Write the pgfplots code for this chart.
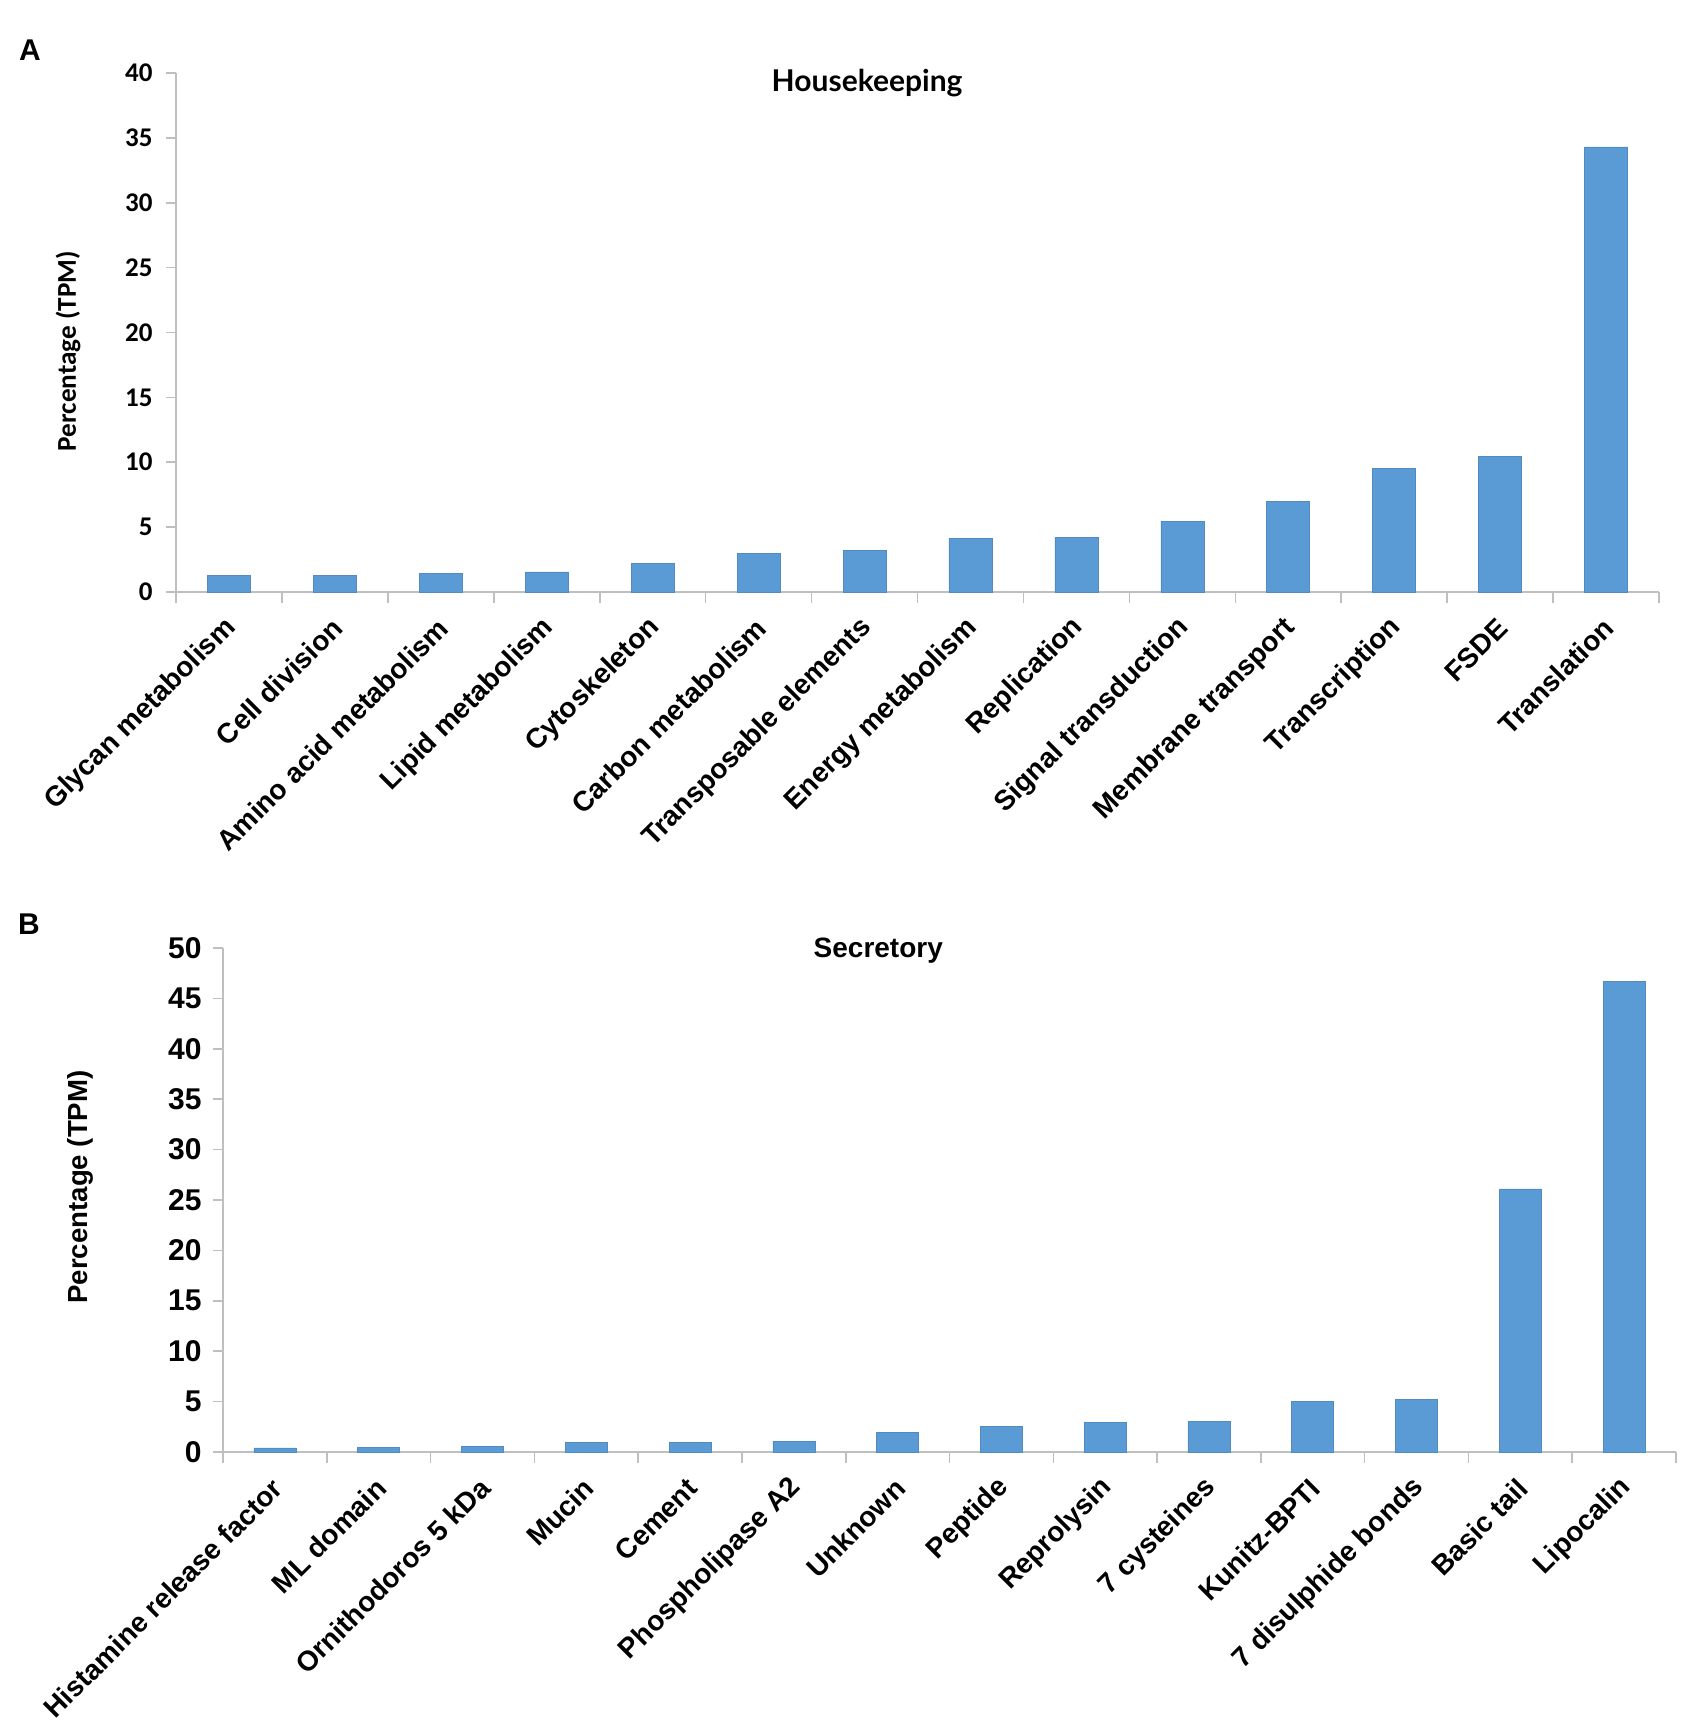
\documentclass[border=0pt]{standalone}
\usepackage{pgfplots}
\pgfplotsset{compat=1.18}
\usepackage{fontspec}
\setmainfont{Liberation Sans}
\newfontfamily\carlito{Carlito}
\newfontfamily\lato{Lato}
\definecolor{barblue}{HTML}{5B9BD5}
\definecolor{axgray}{HTML}{BFBFBF}
\pgfplotsset{
  mybar/.style={
    scale only axis,
    anchor=south west,
    axis x line=bottom,
    axis y line=left,
    axis line style={axgray, line width=0.8pt, -},
    xmin=-0.5, xmax=13.5, ymin=0,
    xtick={0,...,13},
    major x tick style={draw=none},
    minor xtick={-0.5,0.5,...,13.5},
    minor x tick style={axgray, line width=0.8pt},
    minor tick length=5.5pt,
    tick align=outside,
    ytick style={axgray, line width=0.8pt},
    major tick length=5pt,
    /pgf/number format/assume math mode=true,
    xticklabel style={rotate=45, anchor=east, font=\bfseries\fontsize{14}{14}\selectfont, inner sep=1pt, yshift=-8.5pt, xshift=-5.5pt},
    clip=false,
  }
}
\begin{document}
\begin{tikzpicture}
\path[use as bounding box] (0,0) rectangle (843.5pt,866.5pt);
\node[font=\bfseries\fontsize{15}{15}\selectfont] at (15pt,841.5pt) {A};
\node[font=\bfseries\fontsize{15}{15}\selectfont] at (14.5pt,404.5pt) {B};
\node[rotate=90, font=\carlito\bfseries\fontsize{13.6}{13.6}\selectfont] at (34pt,691pt) {Percentage (TPM)};
\node[rotate=90, font=\bfseries\fontsize{13.8}{13.8}\selectfont] at (40pt,273pt) {Percentage (TPM)};
\begin{axis}[mybar,
  at={(88pt,570.5pt)}, width=741.5pt, height=259.5pt,
  ymax=40, ytick={0,5,...,40},
  yticklabel style={font=\carlito\bfseries\fontsize{13.5}{13.5}\selectfont, inner sep=2pt, xshift=-4.5pt},
  xticklabels={Glycan metabolism, Cell division, Amino acid metabolism, Lipid metabolism, Cytoskeleton, Carbon metabolism, Transposable elements, Energy metabolism, Replication, Signal transduction, Membrane transport, Transcription, FSDE, Translation},
]
\addplot[ybar, bar width=21.5pt, fill=barblue, draw=barblue!90!black, line width=0.3pt] coordinates {
(0,1.25) (1,1.27) (2,1.42) (3,1.55) (4,2.2) (5,2.97) (6,3.2) (7,4.15) (8,4.18) (9,5.47) (10,7.0) (11,9.55) (12,10.42) (13,34.3)};
\node[font=\lato\bfseries\fontsize{15}{15}\selectfont] at (rel axis cs:0.466,0.98) {Housekeeping};
\end{axis}
\begin{axis}[mybar,
  at={(111.5pt,140.5pt)}, width=726.5pt, height=252pt,
  ymax=50, ytick={0,5,...,50},
  yticklabel style={font=\bfseries\fontsize{15}{15}\selectfont, inner sep=2pt, xshift=-3.5pt},
  xticklabels={Histamine release factor, ML domain, Ornithodoros 5 kDa, Mucin, Cement, Phospholipase A2, Unknown, Peptide, Reprolysin, 7 cysteines, Kunitz-BPTI, 7 disulphide bonds, Basic tail, Lipocalin},
]
\addplot[ybar, bar width=21pt, fill=barblue, draw=barblue!90!black, line width=0.3pt] coordinates {
(0,0.4) (1,0.43) (2,0.57) (3,0.95) (4,0.98) (5,1.08) (6,1.93) (7,2.53) (8,2.97) (9,3.05) (10,5.0) (11,5.25) (12,26.1) (13,46.7)};
\node[font=\bfseries\fontsize{14}{14}\selectfont] at (rel axis cs:0.451,0.995) {Secretory};
\end{axis}
\end{tikzpicture}
\end{document}
